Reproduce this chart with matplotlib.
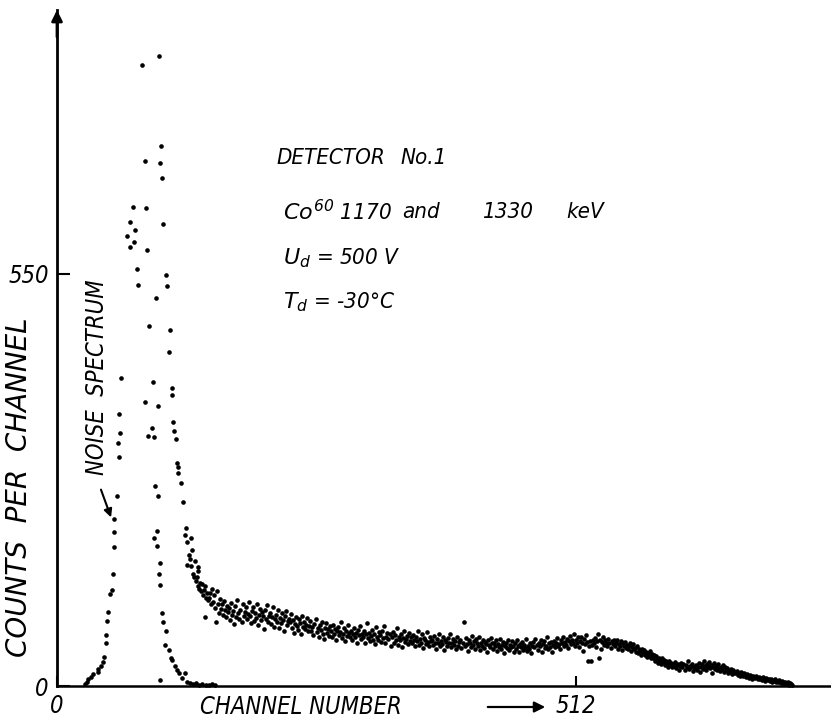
import numpy as np
import matplotlib
matplotlib.use("Agg")
import matplotlib.pyplot as plt

plt.rcParams['font.family'] = ['DejaVu Sans']
plt.rcParams['mathtext.fontset'] = 'custom'
plt.rcParams['mathtext.rm'] = 'DejaVu Sans:italic'
plt.rcParams['mathtext.it'] = 'DejaVu Sans:italic'

# ---- data: peak / noise region (channel, counts) ----
peak_ch = [101, 84, 103, 87, 102, 104, 75, 88, 105, 72, 77, 69, 76, 72, 89, 79, 108, 80, 109,
           98, 91, 111, 110, 113, 113, 114, 115, 117, 118, 119, 119, 122, 124, 127, 126, 132,
           128, 133, 128, 132, 136, 139, 139, 135, 139, 143, 146, 142, 149, 146,
           130, 131, 134, 137, 138, 140, 141, 144, 145, 147, 148,
           95, 87, 100, 94, 90, 96, 97, 100, 99, 96, 99, 102, 101, 102, 104, 105, 108, 107,
           110, 112, 113, 116, 118, 120, 123, 126, 102,
           63, 61, 62, 60, 61, 59, 56, 56, 56, 55, 54, 52, 50, 49, 48, 48, 46, 45, 43, 40, 40,
           36, 34, 31, 30, 28,
           128, 131, 134, 137, 140, 143, 147, 150, 153, 156]
peak_cnt = [841, 828, 721, 701, 698, 678, 639, 638, 617, 619, 609, 601, 593, 586, 582, 557, 549, 535, 534,
            518, 481, 475, 446, 398, 388, 352, 340, 330, 298, 292, 284, 271, 246, 211, 202, 198,
            192, 182, 162, 160, 167, 159, 154, 146, 134, 136, 134, 127, 115, 92,
            175, 170, 150, 140, 145, 130, 138, 121, 128, 118, 124,
            406, 379, 374, 344, 334, 332, 267, 254, 207, 198, 187, 164, 150, 135, 97, 85, 73, 55,
            48, 37, 35, 27, 21, 17, 11, 17, 8,
            411, 363, 338, 324, 306, 254, 223, 206, 186, 150, 128, 123, 99, 87, 68, 57, 39, 32, 27, 23, 19,
            16, 12, 9, 5, 3,
            5, 4, 3, 4, 2, 3, 2, 2, 3, 2]

# ---- data: continuum, one value per channel starting at channel 150 ----
cont_start = 150
cont_cnt = [
    117, 124, 109, 130, 112, 121, 104, 85, 127, 110, 98, 116, 103, 109, 95, 113, 101, 92, 107, 99,
    104, 88, 111, 95, 100, 83, 107, 92, 115, 97, 90, 101, 86, 109, 94, 99, 105, 89, 96, 112,
    93, 84, 100, 106, 87, 97, 91, 110, 82, 95, 103, 88, 99, 93, 76, 101, 90, 108, 86, 94,
    98, 83, 92, 105, 79, 89, 95, 86, 101, 77, 91, 84, 97, 88, 73, 93, 100, 81, 87, 90,
    85, 96, 78, 88, 71, 83, 92, 80, 75, 89, 84, 69, 94, 79, 86, 76, 82, 91, 73, 80,
    87, 74, 79, 68, 83, 90, 72, 77, 65, 81, 75, 86, 70, 63, 78, 84, 71, 76, 67, 80,
    73, 66, 82, 69, 76, 61, 74, 79, 68, 72, 85, 64, 70, 77, 60, 73, 67, 81, 71, 65,
    74, 62, 69, 78, 66, 71, 58, 75, 68, 80, 63, 70, 66, 73, 57, 69, 84, 64, 71, 60,
    67, 75, 61, 70, 56, 79, 65, 62, 72, 68, 59, 74, 64, 80, 57, 66, 71, 63, 69, 54,
    65, 72, 58, 68, 62, 77, 55, 66, 61, 70, 52, 64, 73, 59, 63, 67, 56, 71, 60, 65,
    57, 68, 62, 53, 66, 60, 74, 55, 63, 58, 69, 51, 64, 61, 56, 72, 59, 54, 65, 60,
    62, 55, 67, 58, 50, 63, 57, 70, 53, 60, 56, 66, 48, 61, 59, 54, 64, 57, 69, 52,
    58, 63, 55, 60, 49, 66, 54, 59, 62, 51, 57, 85, 53, 64, 56, 47, 61, 58, 52, 67,
    55, 60, 50, 63, 57, 53, 65, 48, 58, 54, 61, 51, 59, 56, 46, 62, 55, 52, 64, 57,
    50, 58, 54, 61, 47, 56, 52, 63, 49, 55, 59, 44, 53, 57, 51, 62, 48, 55, 52, 60,
    54, 46, 57, 50, 61, 53, 45, 56, 52, 59, 48, 55, 51, 63, 47, 54, 50, 58, 44, 53,
    59, 52, 63, 55, 48, 58, 53, 61, 46, 56, 60, 51, 54, 65, 49, 57, 52, 59, 45, 55,
    60, 52, 58, 64, 54, 56, 49, 62, 57, 65, 53, 59, 55, 63, 51, 60, 67, 56, 62, 58,
    69, 54, 61, 57, 65, 52, 60, 66, 58, 47, 63, 56, 68, 59, 33, 53, 60, 34, 55, 61,
    58, 64, 52, 60, 69, 37, 62, 50, 59, 65, 55, 61, 57, 53, 63, 58, 51, 60, 56, 62,
    53, 58, 62, 50, 56, 54, 60, 48, 57, 53, 59, 51, 55, 49, 54, 58, 47, 52, 56, 50,
    51, 46, 53, 44, 49, 47, 41, 50, 45, 48, 42, 46, 39, 44, 40, 47, 37, 43, 38, 41,
    34, 40, 36, 31, 38, 33, 29, 37, 32, 35, 28, 34, 30, 26, 33, 29, 31, 25, 30, 27,
    32, 24, 28, 30, 22, 27, 31, 25, 29, 21, 28, 26, 33, 23, 27, 25, 30, 20, 26, 24,
    28, 22, 25, 31, 19, 26, 29, 23, 34, 27, 21, 30, 25, 32, 24, 28, 18, 26, 31, 23,
    27, 22, 29, 24, 20, 26, 23, 28, 19, 25, 21, 24, 17, 22, 20, 23, 16, 21, 18, 19,
    17, 20, 15, 18, 14, 19, 16, 13, 17, 15, 12, 16, 14, 11, 15, 13, 10, 14, 12, 11,
    13, 10, 12, 9, 11, 8, 12, 10, 7, 11, 9, 8, 10, 7, 9, 6, 8, 7, 9, 6,
    7, 5, 8, 6, 4, 7, 5, 3, 6, 4, 3, 5, 2, 4, 3, 2]

x_ticks = [0, 512]
x_ticklabels = ['0', '512']
y_ticks = [0, 550]
y_ticklabels = ['0', '550']

W, H = 831, 722
fig = plt.figure(figsize=(W / 100, H / 100), dpi=100)
ax = fig.add_axes([57 / W, 36 / H, (W - 57) / W, (686 - 10) / H])

cont_ch = np.arange(cont_start, cont_start + len(cont_cnt))
ax.scatter(peak_ch, peak_cnt, s=11, c='black', linewidths=0, clip_on=False)
ax.scatter(cont_ch, cont_cnt, s=11, c='black', linewidths=0, clip_on=False)

ax.set_xlim(0, 763.5)
ax.set_ylim(0, 902)
for s in ['top', 'right']:
    ax.spines[s].set_visible(False)
ax.spines['left'].set_linewidth(2.0)
ax.spines['bottom'].set_linewidth(1.8)
ax.annotate('', xy=(0, 1.0), xytext=(0, 0.96), xycoords='axes fraction',
            arrowprops=dict(arrowstyle='-|>', color='black', lw=2, mutation_scale=16,
                            shrinkA=0, shrinkB=0))

tfont = dict(fontsize=17, fontstyle='italic', fontstretch='condensed')
afont = dict(fontsize=16, fontstyle='italic', fontstretch='condensed')
ax.set_xticks(x_ticks)
ax.set_xticklabels(x_ticklabels, **tfont)
ax.set_yticks(y_ticks)
ax.set_yticklabels(y_ticklabels, **tfont)
ax.tick_params(axis='x', direction='in', length=7, width=1.5, pad=6)
ax.tick_params(axis='y', direction='in', length=9, width=1.5, pad=6)


def fx(x):
    return x / W


def fy(y):
    return 1 - y / H


fig.text(fx(200), fy(707), 'CHANNEL NUMBER', ha='left', va='center', **tfont)
fig.add_artist(matplotlib.patches.FancyArrowPatch(
    (fx(485), fy(707)), (fx(548), fy(707)), transform=fig.transFigure,
    arrowstyle='-|>', mutation_scale=16, color='black', lw=1.6))
fig.text(fx(19), fy(487), 'COUNTS  PER  CHANNEL', rotation=90, ha='center', va='center',
         fontsize=20, fontstyle='italic')
fig.text(fx(97), fy(377), 'NOISE  SPECTRUM', rotation=90, ha='center', va='center', **tfont)
fig.add_artist(matplotlib.patches.FancyArrowPatch(
    (fx(100), fy(487)), (fx(112), fy(520)), transform=fig.transFigure,
    arrowstyle='-|>', mutation_scale=12, color='black', lw=1.5))

fig.text(fx(276), fy(158), 'DETECTOR', ha='left', va='center', **afont)
fig.text(fx(400), fy(158), 'No.1', ha='left', va='center', **afont)
fig.text(fx(283), fy(212), r'$Co^{60}$ 1170', ha='left', va='center', **afont)
fig.text(fx(402), fy(212), 'and', ha='left', va='center', **afont)
fig.text(fx(482), fy(212), '1330', ha='left', va='center', **afont)
fig.text(fx(566), fy(212), 'keV', ha='left', va='center', **afont)
fig.text(fx(283), fy(258), r'$U_d$ = 500 V', ha='left', va='center', **afont)
fig.text(fx(283), fy(302), r'$T_d$ = -30°C', ha='left', va='center', **afont)

fig.savefig('out.png', dpi=100)
